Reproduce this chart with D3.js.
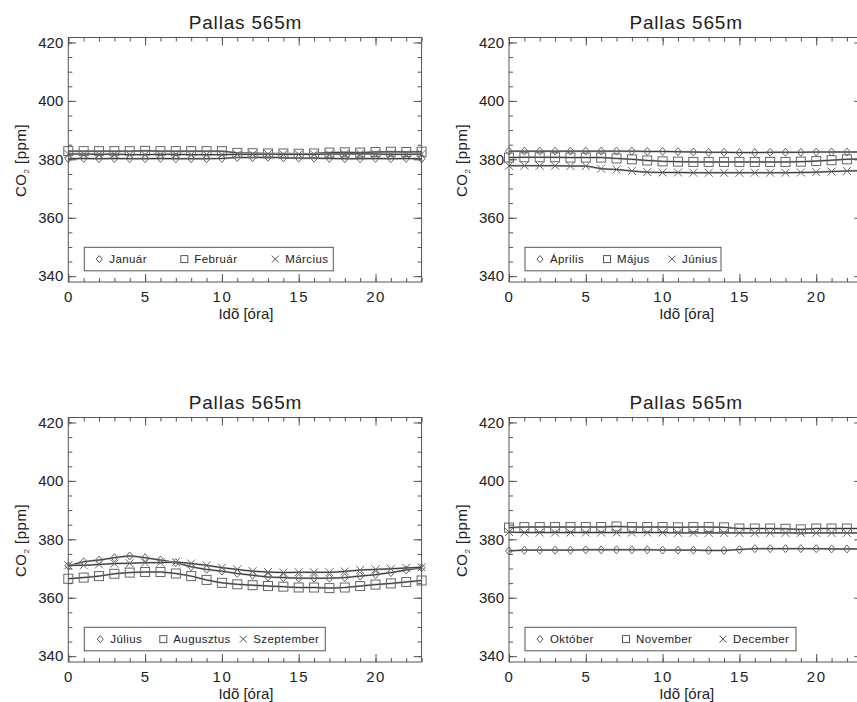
<!DOCTYPE html>
<html>
<head>
<meta charset="utf-8">
<script src="https://cdn.jsdelivr.net/npm/d3@7"></script>
<style>
  body { margin: 0; background: #fff; }
  svg { font-family: "Liberation Sans", Arial, sans-serif; }
</style>
</head>
<body>
<div id="chart"></div>
<script>
const width = 857;
const height = 702;

const hours = d3.range(0, 24);
const xTicks = [0, 5, 10, 15, 20];
const yTicks = [340, 360, 380, 400, 420];
const title = "Pallas 565m";

// monthly mean diurnal cycles, ppm
const januar = [380.2, 380.3, 380.2, 380.3, 380.2, 380.2, 380.3, 380.2, 380.2, 380.2, 380.3, 380.6, 380.6, 380.7, 380.5, 380.4, 380.4, 380.3, 380.2, 380.2, 380.3, 380.2, 380.3, 380.2];
const februar = [382.8, 382.8, 382.8, 382.8, 382.8, 382.9, 382.8, 382.8, 382.8, 382.8, 382.8, 382.2, 382.1, 382.0, 382.0, 381.9, 382.0, 382.3, 382.4, 382.3, 382.5, 382.6, 382.5, 382.6];
const marcius = [381.8, 381.8, 381.7, 381.8, 381.6, 381.6, 381.7, 381.7, 381.6, 381.6, 381.6, 381.7, 381.7, 381.8, 381.7, 381.7, 381.7, 381.8, 381.8, 381.9, 381.8, 381.7, 381.7, 381.8];
const aprilis = [382.8, 382.8, 382.8, 382.8, 382.8, 382.8, 382.8, 382.8, 382.8, 382.7, 382.7, 382.6, 382.5, 382.4, 382.4, 382.3, 382.3, 382.4, 382.4, 382.4, 382.5, 382.5, 382.5, 382.5];
const majus = [380.6, 380.7, 380.7, 380.7, 380.6, 380.6, 380.6, 380.3, 380.0, 379.6, 379.3, 379.2, 379.1, 379.1, 379.1, 379.1, 379.1, 379.1, 379.1, 379.2, 379.4, 379.7, 380.0, 380.1];
const junius = [377.8, 377.8, 377.8, 377.8, 377.7, 377.7, 376.8, 376.5, 376.0, 375.6, 375.5, 375.5, 375.4, 375.4, 375.4, 375.4, 375.4, 375.4, 375.4, 375.5, 375.6, 375.8, 376.0, 376.1];
const julius = [370.9, 372.3, 372.9, 373.7, 374.3, 373.7, 372.9, 372.0, 370.6, 369.7, 369.1, 368.3, 367.7, 367.1, 366.9, 366.7, 366.7, 366.7, 366.9, 367.4, 367.9, 368.6, 369.5, 370.3];
const augusztus = [366.5, 366.9, 367.4, 368.2, 368.6, 368.8, 368.8, 368.3, 367.4, 366.1, 365.1, 364.6, 364.3, 364.0, 363.8, 363.5, 363.5, 363.3, 363.5, 364.0, 364.5, 364.9, 365.4, 365.9];
const szeptember = [371.1, 371.1, 371.4, 371.7, 371.8, 372.0, 372.0, 372.2, 371.7, 371.1, 370.3, 369.7, 369.1, 368.8, 368.6, 368.7, 368.7, 368.7, 369.0, 369.5, 369.7, 369.9, 370.2, 370.4];
const oktober = [376.0, 376.3, 376.3, 376.3, 376.3, 376.4, 376.4, 376.4, 376.4, 376.4, 376.3, 376.3, 376.3, 376.2, 376.2, 376.5, 376.8, 376.8, 376.8, 376.8, 376.8, 376.7, 376.7, 376.7];
const november = [384.0, 384.2, 384.2, 384.2, 384.2, 384.2, 384.2, 384.4, 384.2, 384.2, 384.2, 384.1, 384.2, 384.2, 384.1, 383.7, 383.7, 383.7, 383.6, 383.4, 383.7, 383.7, 383.7, 383.7];
const december = [382.5, 382.3, 382.3, 382.3, 382.3, 382.3, 382.3, 382.3, 382.3, 382.3, 382.3, 382.2, 382.2, 382.2, 382.2, 382.2, 382.2, 382.2, 382.2, 382.2, 382.2, 382.2, 382.2, 382.2];

const panels = [
  { col: 0, row: 0, names: ["Január", "Február", "Március"], series: [januar, februar, marcius], legendX: [15, 100, 191], legendW: 249 },
  { col: 1, row: 0, names: ["Április", "Május", "Június"], series: [aprilis, majus, junius], legendX: [15, 82, 147], legendW: 196 },
  { col: 0, row: 1, names: ["Július", "Augusztus", "Szeptember"], series: [julius, augusztus, szeptember], legendX: [16, 79, 159], legendW: 241 },
  { col: 1, row: 1, names: ["Október", "November", "December"], series: [oktober, november, december], legendX: [15, 101, 198], legendW: 271 }
];

const symbols = ["diamond", "square", "cross"];

const svg = d3.select("#chart")
  .append("svg")
  .attr("width", width)
  .attr("height", height);

const plotW = 353.3;
const plotH = 244.5;

function marker(g, kind, cx, cy, s) {
  if (kind === "diamond") {
    g.append("path")
      .attr("d", `M${cx},${cy - s}L${cx + s * 0.85},${cy}L${cx},${cy + s}L${cx - s * 0.85},${cy}Z`);
  } else if (kind === "square") {
    g.append("rect")
      .attr("x", cx - s).attr("y", cy - s)
      .attr("width", 2 * s).attr("height", 2 * s);
  } else {
    g.append("path")
      .attr("d", `M${cx - s},${cy - s}L${cx + s},${cy + s}M${cx - s},${cy + s}L${cx + s},${cy - s}`);
  }
}

panels.forEach(p => {
  const left = 68.3 + p.col * 440.7;
  const top = 37.5 + p.row * 380;

  const x = d3.scaleLinear().domain([0, 23]).range([left, left + plotW]);
  const y = d3.scaleLinear().domain([338, 421.7]).range([top + plotH, top]);

  const g = svg.append("g");

  // title
  g.append("text")
    .attr("x", left + plotW / 2 + 0.5)
    .attr("y", top - 8.5)
    .attr("text-anchor", "middle")
    .attr("font-size", 19)
    .attr("letter-spacing", 0.8)
    .attr("fill", "#222")
    .text(title);

  // series
  p.series.forEach((vals, i) => {
    const pts = hours.map((h, k) => [x(h), y(vals[k])]);
    g.append("path")
      .attr("d", d3.line()(pts))
      .attr("fill", "none")
      .attr("stroke", "#aaa")
      .attr("stroke-width", 2);
    g.append("path")
      .attr("d", d3.line().curve(d3.curveMonotoneX)(pts))
      .attr("fill", "none")
      .attr("stroke", "#333")
      .attr("stroke-width", 1);
    const mg = g.append("g")
      .attr("fill", "none")
      .attr("stroke", "#666")
      .attr("stroke-width", 1);
    const size = symbols[i] === "square" ? 4.5 : 4;
    pts.forEach(([px, py]) => marker(mg, symbols[i], px, py, size));
  });

  // frame with inward ticks on all sides
  const axes = g.append("g").attr("color", "#555");

  axes.append("g")
    .attr("transform", `translate(0,${top + plotH})`)
    .call(d3.axisBottom(x).tickValues(d3.range(0, 24)).tickSize(-4).tickFormat(""))
    .call(a => a.select(".domain").remove());
  axes.append("g")
    .attr("transform", `translate(0,${top + plotH})`)
    .call(d3.axisBottom(x).tickValues(xTicks).tickSize(-8).tickPadding(9))
    .call(a => a.select(".domain").remove())
    .call(a => a.selectAll("text")
      .attr("fill", "#222")
      .attr("font-size", 15)
      .attr("letter-spacing", 1.5)
      .attr("font-family", "Liberation Sans, Arial, sans-serif"));
  axes.append("g")
    .attr("transform", `translate(0,${top})`)
    .call(d3.axisTop(x).tickValues(d3.range(0, 24)).tickSize(-4).tickFormat(""))
    .call(a => a.select(".domain").remove());
  axes.append("g")
    .attr("transform", `translate(0,${top})`)
    .call(d3.axisTop(x).tickValues(xTicks).tickSize(-8).tickFormat(""))
    .call(a => a.select(".domain").remove());

  axes.append("g")
    .attr("transform", `translate(${left},0)`)
    .call(d3.axisLeft(y).tickValues(d3.range(340, 421, 5)).tickSize(-4).tickFormat(""))
    .call(a => a.select(".domain").remove());
  axes.append("g")
    .attr("transform", `translate(${left},0)`)
    .call(d3.axisLeft(y).tickValues(yTicks).tickSize(-8).tickPadding(5))
    .call(a => a.select(".domain").remove())
    .call(a => a.selectAll("text")
      .attr("fill", "#222")
      .attr("font-size", 15)
      .attr("font-family", "Liberation Sans, Arial, sans-serif"));
  axes.append("g")
    .attr("transform", `translate(${left + plotW},0)`)
    .call(d3.axisRight(y).tickValues(d3.range(340, 421, 5)).tickSize(-4).tickFormat(""))
    .call(a => a.select(".domain").remove());
  axes.append("g")
    .attr("transform", `translate(${left + plotW},0)`)
    .call(d3.axisRight(y).tickValues(yTicks).tickSize(-8).tickFormat(""))
    .call(a => a.select(".domain").remove());

  axes.append("rect")
    .attr("x", left).attr("y", top)
    .attr("width", plotW).attr("height", plotH)
    .attr("fill", "none")
    .attr("stroke", "#555");

  // axis titles
  g.append("text")
    .attr("x", left + plotW / 2 + 1)
    .attr("y", top + plotH + 37)
    .attr("text-anchor", "middle")
    .attr("font-size", 15)
    .attr("fill", "#222")
    .text("Idõ [óra]");

  const yl = g.append("text")
    .attr("transform", `translate(${left - 42},${top + 123}) rotate(-90)`)
    .attr("text-anchor", "middle")
    .attr("font-size", 15)
    .attr("letter-spacing", 0.5)
    .attr("fill", "#222");
  yl.append("tspan").text("CO");
  yl.append("tspan").attr("font-size", 8).attr("dy", 3).text("2");
  yl.append("tspan").attr("dy", -3).text(" [ppm]");

  // legend
  const lx = left + 16;
  const ly = top + plotH - 34.7;
  const lg = g.append("g");
  lg.append("rect")
    .attr("x", lx).attr("y", ly)
    .attr("width", p.legendW).attr("height", 23.5)
    .attr("fill", "#fff")
    .attr("stroke", "#555");
  p.names.forEach((name, i) => {
    const sx = lx + p.legendX[i];
    const sy = ly + 11.8;
    const sg = lg.append("g").attr("fill", "none").attr("stroke", "#555");
    marker(sg, symbols[i], sx, sy, 3.5);
    lg.append("text")
      .attr("x", sx + 10)
      .attr("y", sy + 4)
      .attr("font-size", 11.5)
      .attr("letter-spacing", 0.4)
      .attr("fill", "#222")
      .text(name);
  });
});
</script>
</body>
</html>
